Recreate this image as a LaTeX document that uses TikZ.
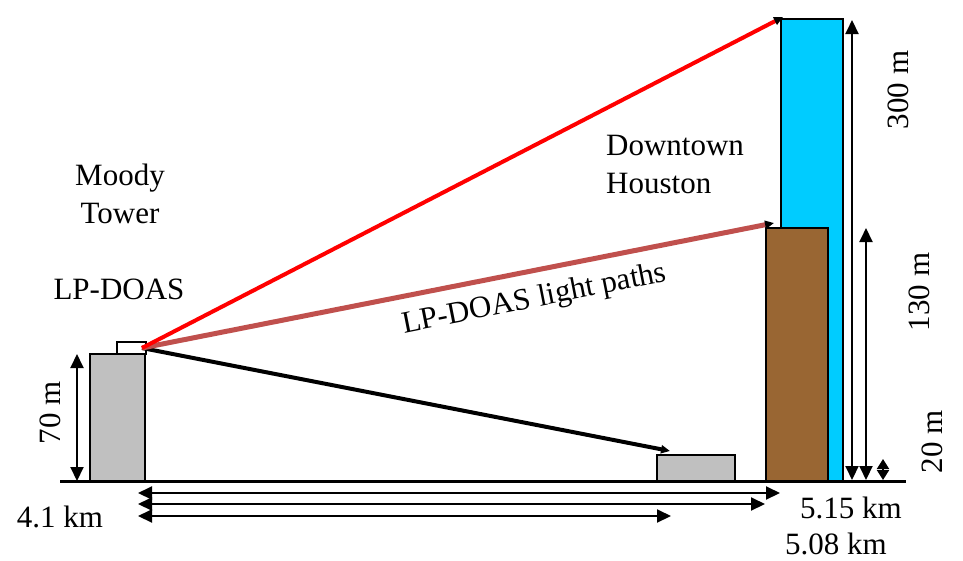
\documentclass[tikz,border=0pt]{standalone}
\usepackage{fontspec}
\setmainfont{Liberation Serif}
\usepackage{tikz}
\usetikzlibrary{arrows.meta}
\definecolor{towerblue}{RGB}{0,204,255}
\definecolor{towerbrown}{RGB}{153,102,51}
\definecolor{roofgray}{RGB}{192,192,192}
\definecolor{beamred}{RGB}{255,0,0}
\definecolor{beambrown}{RGB}{192,80,77}

\begin{document}
\begin{tikzpicture}[x=1pt,y=-1pt,
  building/.style={draw,line width=2pt,outer sep=0pt,inner sep=0pt,anchor=south west},
  measure/.style={{Triangle[length=14pt,width=13pt]}-{Triangle[length=14pt,width=13pt]},
                  line width=2pt},
  shortmeasure/.style={{Triangle[length=10pt,width=12pt]}-{Triangle[length=10pt,width=12pt]},
                       line width=2pt},
  beam/.style={-{Triangle[length=9pt,width=8pt,black]},line width=4pt},
  txt/.style={font=\fontsize{31}{37.5}\selectfont,inner sep=0pt}
]
\useasboundingbox (0,0) rectangle (963,560);

% Ground and buildings.
\coordinate (groundw) at (60,481);
\coordinate (grounde) at (906,481);
\draw[line width=3pt] (groundw) -- (grounde);
\node[building,fill=roofgray,minimum width=55pt,minimum height=127pt] (moody) at (90,481) {};
\node[building,fill=white,minimum width=29pt,minimum height=12pt] (lpdoas) at (117,354) {};
\node[building,fill=roofgray,minimum width=78pt,minimum height=26pt] (target) at (657,481) {};
\node[building,fill=towerblue,minimum width=62pt,minimum height=462pt] (tall) at (781,481) {};
\node[building,fill=towerbrown,minimum width=62pt,minimum height=253pt] (low) at (766,481) {};

% Light paths to the retro-reflectors.
\coordinate (src) at ([xshift=-4pt,yshift=-6pt]lpdoas.north east);
\coordinate (retrotall) at ([xshift=2pt,yshift=2pt]tall.north west);
\coordinate (retrolow) at ([xshift=8pt,yshift=5pt]low.north west);
\coordinate (retrotarget) at ([xshift=13pt,yshift=4pt]target.north west);
\draw[beam,draw=black] (src) -- (retrotarget);
\draw[beam,draw=beambrown,line width=5pt] (src) -- (retrolow);
\draw[beam,draw=beamred] (src) -- (retrotall);

% Heights.
\draw[measure] ([xshift=-13pt]moody.north west) -- ([xshift=-13pt]moody.south west);
\draw[measure] ([xshift=9pt,yshift=-1pt]tall.north east) -- ([xshift=9pt,yshift=1pt]tall.south east);
\draw[measure] ([xshift=38pt]low.north east) -- ([xshift=38pt,yshift=1pt]low.south east);
\draw[shortmeasure] ([xshift=40pt,yshift=22pt]tall.south east) -- ([xshift=40pt,yshift=1pt]tall.south east);

% Distances from Moody Tower.
\draw[measure] ([xshift=-7pt,yshift=-12pt]moody.south east) -- ([xshift=-1pt,yshift=-12pt]tall.south west);
\draw[measure] ([xshift=-7pt,yshift=-23pt]moody.south east) -- ([xshift=-1pt,yshift=-23pt]low.south west);
\draw[measure] ([xshift=-7pt,yshift=-35pt]moody.south east) -- ([xshift=14pt,yshift=-35pt]target.south west);

% Labels.
\node[txt,align=center,anchor=north] (moodylbl) at (120,164) {Moody\\Tower};
\node[txt,anchor=base] (lpdoaslbl) at (119,299) {LP-DOAS};
\node[txt,align=left,anchor=north west] (downtownlbl) at (606,135) {Downtown\\Houston};
\node[txt,rotate=11.2,anchor=base] (beamlbl) at (536,307) {LP-DOAS light paths};
\node[txt,rotate=90] (h70) at (50,413) {70 m};
\node[txt,rotate=90] (h300) at (898,90) {300 m};
\node[txt,rotate=90] (h130) at (919,292) {130 m};
\node[txt,rotate=90] (h20) at (932,442) {20 m};
\node[txt,anchor=base] (d41) at (60,527) {4.1 km};
\node[txt,anchor=base] (d515) at (851,518) {5.15 km};
\node[txt,anchor=base] (d508) at (836,554) {5.08 km};
\end{tikzpicture}
\end{document}
